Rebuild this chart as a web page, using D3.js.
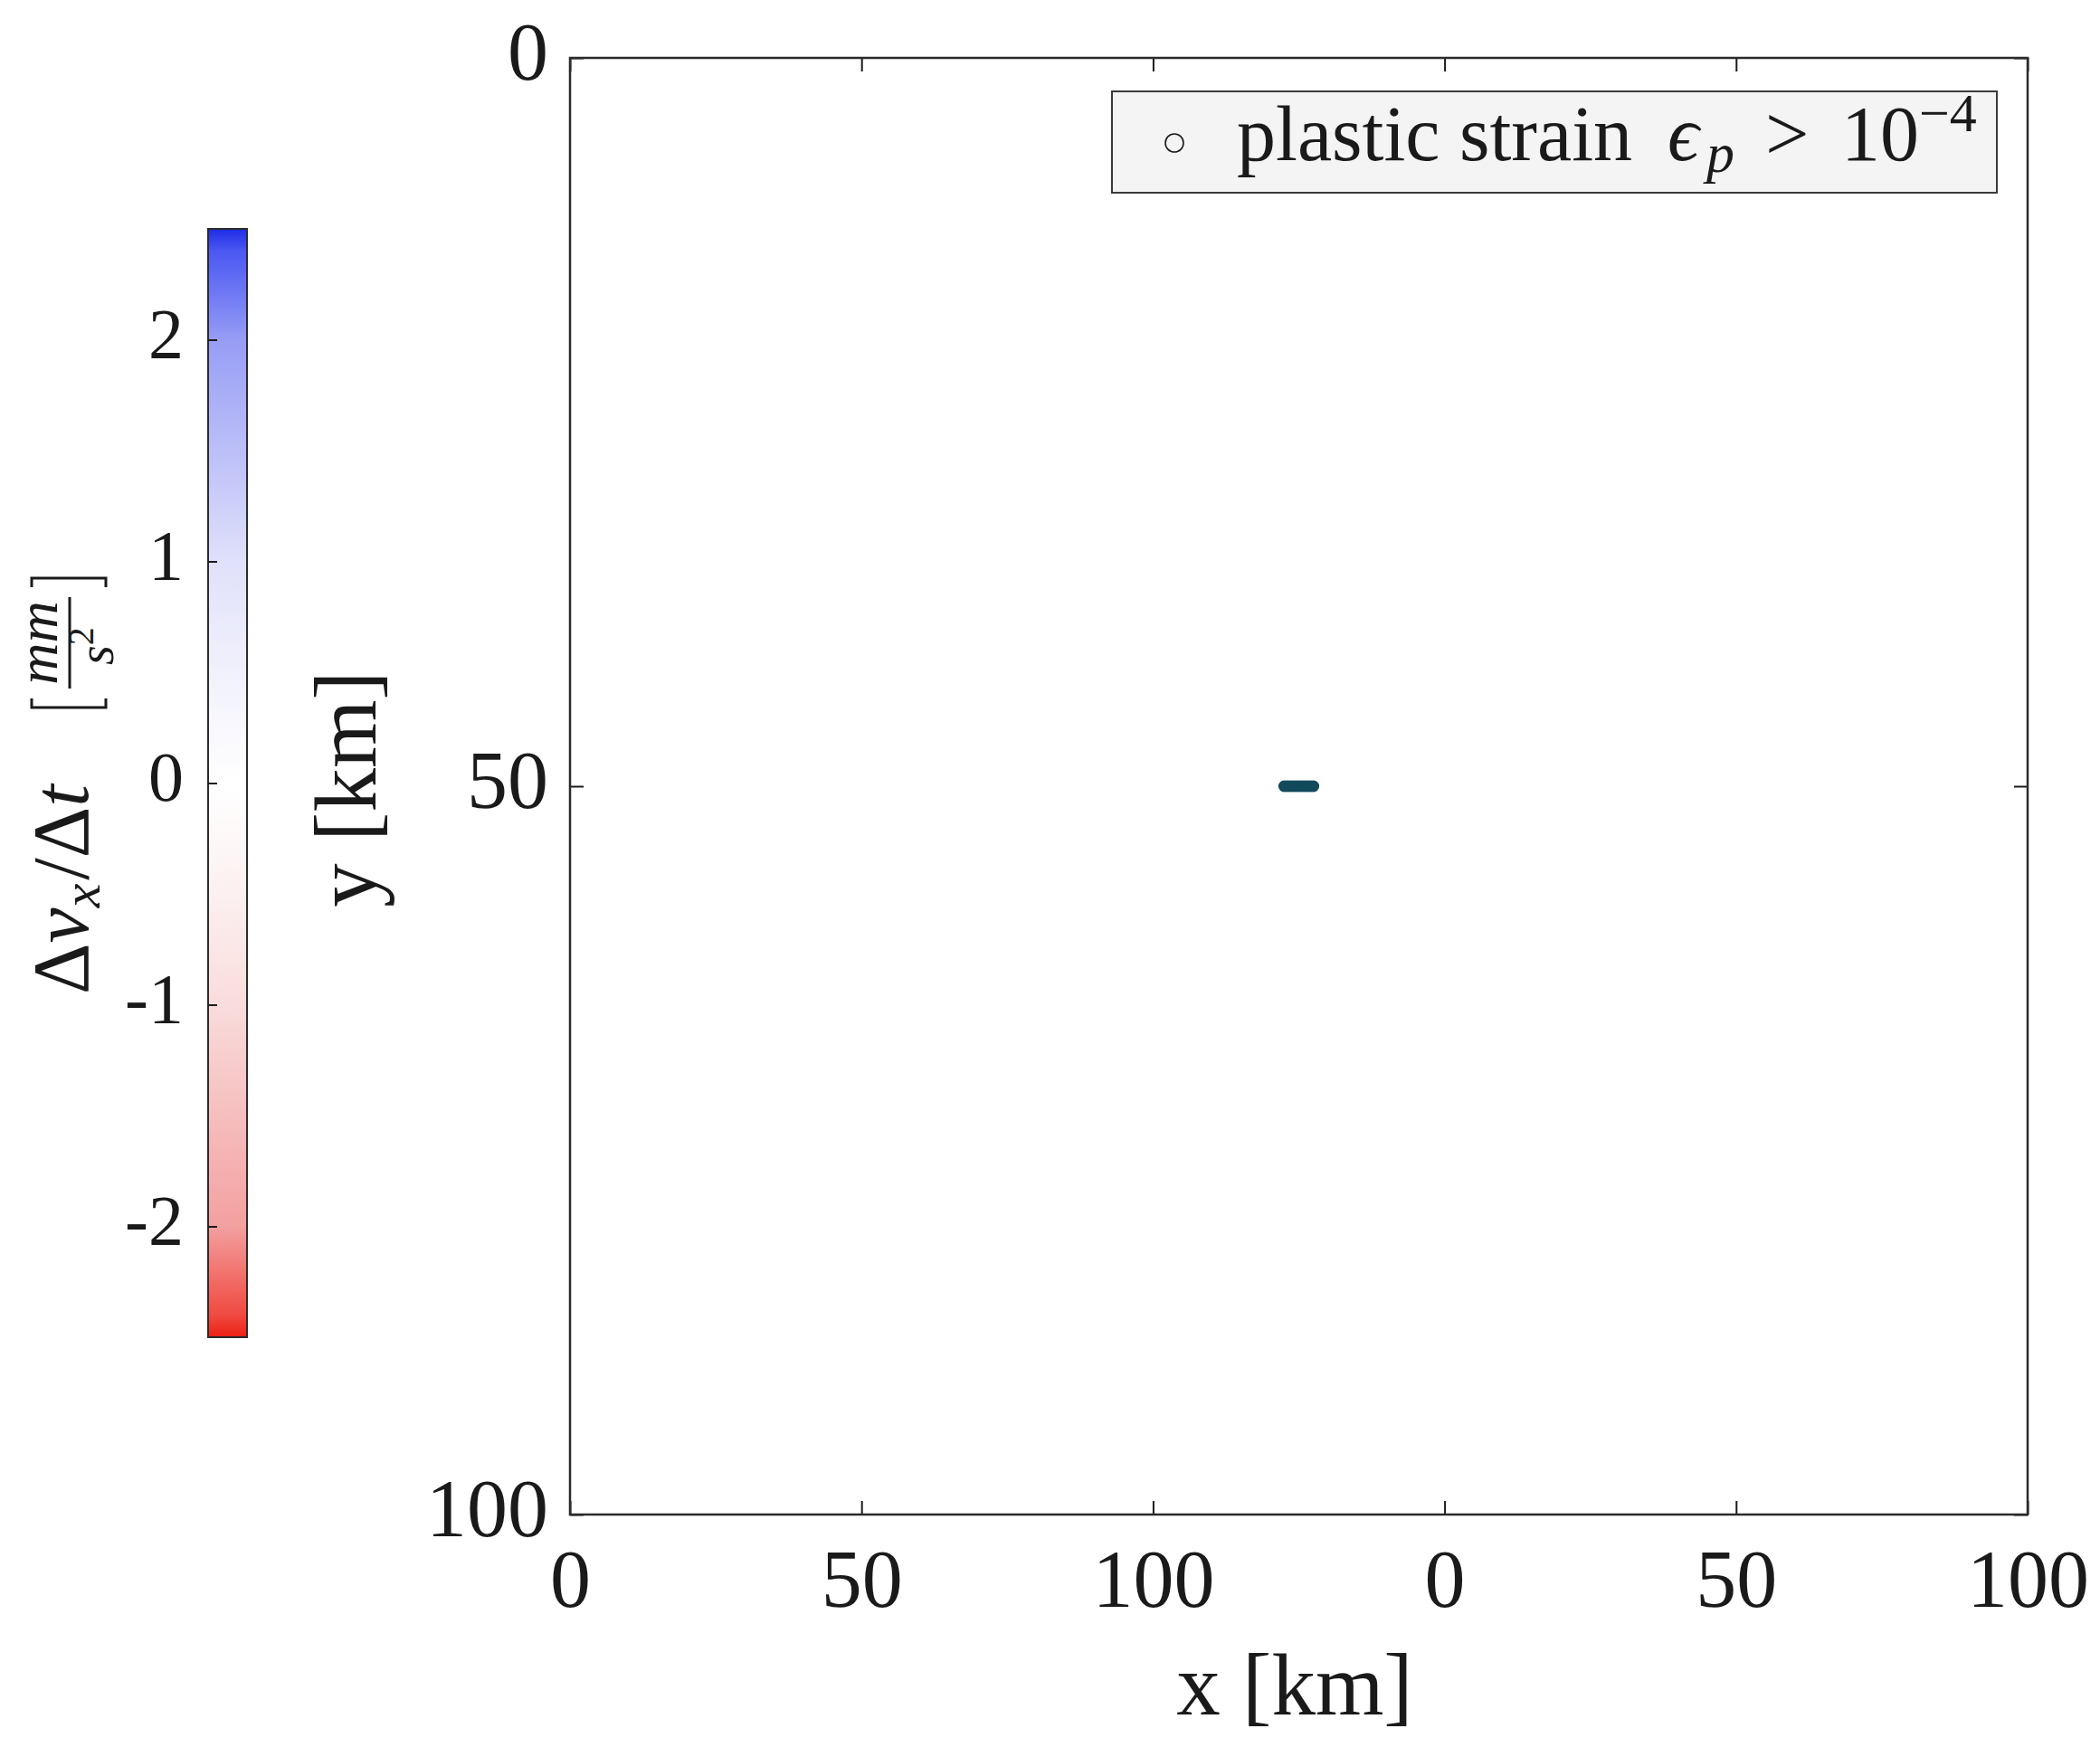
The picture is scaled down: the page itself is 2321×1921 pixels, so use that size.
<!DOCTYPE html>
<html><head><meta charset="utf-8">
<script src="https://cdn.jsdelivr.net/npm/d3@7"></script>
<style>html,body{margin:0;background:#fff}</style>
</head><body>
<script>
const FONT = '"Liberation Serif", "DejaVu Serif", serif';
const INK = '#1a1a1a';

// axis ticks
const xTicks = [0, 50, 100, 150, 200, 250];
const xTickLabels = ['0', '50', '100', '0', '50', '100'];
const yTicks = [0, 50, 100];
const cbTicks = [-2, -1, 0, 1, 2];
const cbTickLabels = ['-2', '-1', '0', '1', '2'];

// colormap of the colorbar (value -> colour)
const cmapVals = [-2.5, -2.4, -2, -1, -0.5, 0, 0.5, 1, 2, 2.4, 2.5];
const cmapCols = ['#ec2014', '#f04a40', '#f3a0a0', '#f9dcdc', '#fcf0f0', '#ffffff', '#f1f1fc', '#e0e1fa', '#979df5', '#4a58f2', '#1e2ce6'];

// plastic strain points (km)
const plasticX = [122.5, 123, 123.5, 124, 124.5, 125, 125.5, 126, 126.5, 127, 127.5];
const plasticY = [50, 50, 50, 50, 50, 50, 50, 50, 50, 50, 50];

const W = 2321, H = 1921;
const m = { l: 630, r: 2241, t: 64, b: 1674 };
const svg = d3.select('body').append('svg').attr('width', W).attr('height', H)
  .style('font-family', FONT);

const x = d3.scaleLinear().domain([0, 250]).range([m.l, m.r]);
const y = d3.scaleLinear().domain([0, 100]).range([m.t, m.b]);

// points
svg.append('g').selectAll('circle').data(plasticX).join('circle')
  .attr('cx', d => x(d)).attr('cy', (d, i) => y(plasticY[i])).attr('r', 6.5)
  .attr('fill', '#124a5c');

// axes
const styleAxis = (g) => {
  g.select('.domain').remove();
  g.selectAll('.tick line').attr('stroke', INK).attr('stroke-width', 2);
  g.selectAll('.tick text').attr('fill', INK).attr('font-family', FONT).attr('font-size', 90);
};
svg.append('g').attr('transform', `translate(0,${m.b})`)
  .call(d3.axisBottom(x).tickValues(xTicks).tickFormat((d, i) => xTickLabels[i]).tickSize(-15))
  .call(styleAxis)
  .call(g => g.selectAll('.tick text').attr('y', 102).attr('dy', null));
svg.append('g').attr('transform', `translate(0,${m.t})`)
  .call(d3.axisTop(x).tickValues(xTicks).tickFormat('').tickSize(-15)).call(styleAxis);
svg.append('g').attr('transform', `translate(${m.l},0)`)
  .call(d3.axisLeft(y).tickValues(yTicks).tickFormat(d3.format('d')).tickSize(-15))
  .call(styleAxis)
  .call(g => g.selectAll('.tick text').attr('x', -24).attr('y', 23).attr('dy', null));
svg.append('g').attr('transform', `translate(${m.r},0)`)
  .call(d3.axisRight(y).tickValues(yTicks).tickFormat('').tickSize(-15)).call(styleAxis);
svg.append('rect').attr('x', m.l).attr('y', m.t).attr('width', m.r - m.l).attr('height', m.b - m.t)
  .attr('fill', 'none').attr('stroke', '#2b2b2b').attr('stroke-width', 2.5);

// axis labels
svg.append('text').attr('x', 1431).attr('y', 1895).attr('text-anchor', 'middle')
  .attr('font-size', 97).attr('fill', INK).text('x [km]');
svg.append('text').attr('transform', 'translate(415,872) rotate(-90)').attr('text-anchor', 'middle')
  .attr('font-size', 97).attr('fill', INK).text('y [km]');

// legend
const leg = svg.append('g').attr('transform', 'translate(1229,101)').attr('fill', INK);
leg.append('rect').attr('width', 978).attr('height', 112)
  .attr('fill', '#f4f4f4').attr('stroke', '#3a3a3a').attr('stroke-width', 2);
leg.append('circle').attr('cx', 69).attr('cy', 57).attr('r', 10)
  .attr('fill', 'none').attr('stroke', INK).attr('stroke-width', 1.6);
leg.append('text').attr('x', 138).attr('y', 76).attr('font-size', 86).text('plastic strain');
leg.append('text').attr('x', 614).attr('y', 76).attr('font-size', 86).attr('font-style', 'italic').text('\u03F5');
leg.append('text').attr('x', 657).attr('y', 89).attr('font-size', 62).attr('font-style', 'italic').text('p');
leg.append('text').attr('x', 722).attr('y', 76).attr('font-size', 86).text('>');
leg.append('text').attr('x', 806).attr('y', 76).attr('font-size', 86).text('10');
leg.append('text').attr('x', 892).attr('y', 44).attr('font-size', 60).text('\u22124');

// colorbar
const cbX = 230, cbW = 43;
const cb = d3.scaleLinear().domain([-2.5, 2.5]).range([1478, 253]);
const cmap = d3.scaleLinear().domain(cmapVals).range(cmapCols);
const grad = svg.append('defs').append('linearGradient').attr('id', 'cbg')
  .attr('x1', 0).attr('x2', 0).attr('y1', 1).attr('y2', 0);
grad.selectAll('stop').data(d3.range(0, 1.0001, 0.01)).join('stop')
  .attr('offset', d => d).attr('stop-color', d => cmap(-2.5 + 5 * d));
svg.append('rect').attr('x', cbX).attr('y', cb(2.5)).attr('width', cbW).attr('height', cb(-2.5) - cb(2.5))
  .attr('fill', 'url(#cbg)').attr('stroke', '#2b2b2b').attr('stroke-width', 2);
svg.append('g').attr('transform', `translate(${cbX},0)`)
  .call(d3.axisLeft(cb).tickValues(cbTicks).tickFormat((d, i) => cbTickLabels[i]).tickSize(-10))
  .call(styleAxis)
  .call(g => g.selectAll('.tick text').attr('font-size', 78).attr('x', -27).attr('y', 19).attr('dy', null));

// colorbar label: Δv_x/Δt [mm/s^2]
const cl = svg.append('g').attr('transform', 'translate(97,870) rotate(-90)').attr('fill', INK);
const ct = cl.append('text').attr('x', -229).attr('y', 0).attr('font-size', 88);
ct.append('tspan').text('\u0394');
ct.append('tspan').attr('font-style', 'italic').text('v');
ct.append('tspan').attr('font-style', 'italic').attr('font-size', 60).attr('dy', 13).text('x');
ct.append('tspan').attr('dy', -13).attr('dx', 4).text('/\u0394');
ct.append('tspan').attr('font-style', 'italic').text('t');
cl.append('path').attr('d', 'M98,-62H88V20H98M221,-62H231V20H221')
  .attr('fill', 'none').attr('stroke', INK).attr('stroke-width', 3);
cl.append('text').attr('x', 159.5).attr('y', -34).attr('text-anchor', 'middle')
  .attr('font-size', 64).attr('font-style', 'italic').text('mm');
cl.append('line').attr('x1', 109).attr('x2', 210).attr('y1', -20).attr('y2', -20)
  .attr('stroke', INK).attr('stroke-width', 3);
const den = cl.append('text').attr('x', 135).attr('y', 28).attr('font-size', 56);
den.append('tspan').attr('font-style', 'italic').text('s');
den.append('tspan').attr('dy', -22).attr('font-size', 40).text('2');
</script>
</body></html>
